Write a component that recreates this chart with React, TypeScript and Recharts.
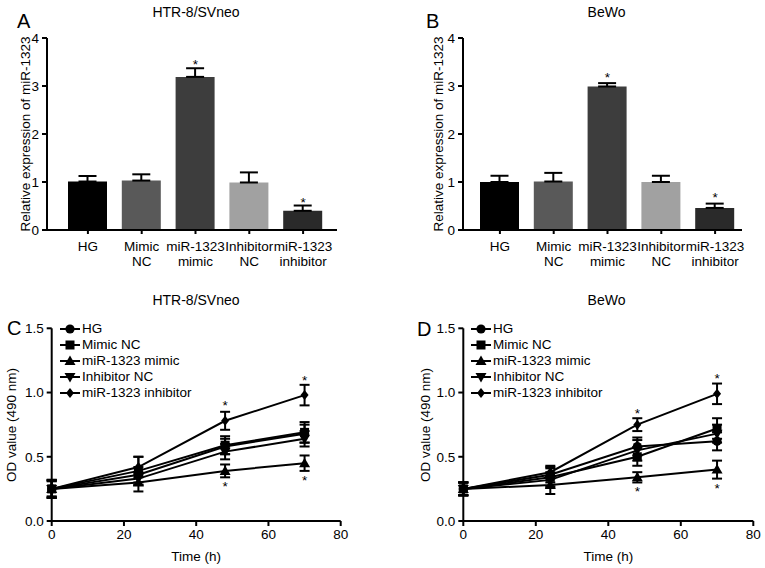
import React from 'react';
import { ComposedChart, Bar, Line, XAxis, YAxis, ErrorBar, Cell, Legend } from 'recharts';

const FONT = '"Liberation Sans", Arial, Helvetica, sans-serif';
const FS = 13.5;

// ---- categories / series names ----
const groupNames = ['HG', 'Mimic NC', 'miR-1323 mimic', 'Inhibitor NC', 'miR-1323 inhibitor'];
const barColors = ['#000000', '#595959', '#3d3d3d', '#a1a1a1', '#2a2a2a'];
const markerShapes = ['circle', 'square', 'triangle', 'tdown', 'diamond'];

// ---- Panel A (HTR-8/SVneo, relative expression) ----
const aValues = [1.01, 1.03, 3.19, 0.99, 0.40];
const aErrors = [0.115, 0.13, 0.18, 0.21, 0.11];
const aStars = [null, null, 3.52, null, 0.64];

// ---- Panel B (BeWo, relative expression) ----
const bValues = [1.0, 1.01, 2.99, 1.0, 0.46];
const bErrors = [0.13, 0.18, 0.07, 0.13, 0.09];
const bStars = [null, null, 3.23, null, 0.74];

const barTicks = [0, 1, 2, 3, 4];

// ---- Panels C / D (OD value over time) ----
const timePoints = [0, 24, 48, 70];
const xTicks = [0, 20, 40, 60, 80];
const odTicks = [0, 0.5, 1.0, 1.5];

const cHG = [0.25, 0.36, 0.58, 0.68];
const cHGErr = [0.06, 0.06, 0.06, 0.07];
const cMimicNC = [0.25, 0.39, 0.59, 0.69];
const cMimicNCErr = [0.07, 0.11, 0.07, 0.08];
const cMimic = [0.25, 0.30, 0.39, 0.45];
const cMimicErr = [0.07, 0.07, 0.05, 0.06];
const cInhNC = [0.25, 0.33, 0.54, 0.64];
const cInhNCErr = [0.06, 0.05, 0.06, 0.06];
const cInh = [0.25, 0.42, 0.78, 0.98];
const cInhErr = [0.07, 0.08, 0.07, 0.08];
const cStarAbove = [null, null, 0.92, 1.12];
const cStarBelow = [null, null, 0.29, 0.34];

const dHG = [0.25, 0.36, 0.58, 0.62];
const dHGErr = [0.05, 0.06, 0.07, 0.07];
const dMimicNC = [0.25, 0.34, 0.50, 0.72];
const dMimicNCErr = [0.05, 0.07, 0.07, 0.08];
const dMimic = [0.25, 0.28, 0.34, 0.40];
const dMimicErr = [0.05, 0.07, 0.04, 0.07];
const dInhNC = [0.25, 0.32, 0.55, 0.68];
const dInhNCErr = [0.05, 0.06, 0.08, 0.07];
const dInh = [0.25, 0.38, 0.75, 0.99];
const dInhErr = [0.05, 0.05, 0.05, 0.08];
const dStarAbove = [null, null, 0.86, 1.13];
const dStarBelow = [null, null, 0.25, 0.275];

const buildBarData = (vals: number[], errs: number[], stars: (number | null)[]) =>
  groupNames.map((name, i) => ({ name, v: vals[i], errRange: [0, errs[i]], star: stars[i] }));

const buildLineData = (
  means: number[][],
  errs: number[][],
  up: (number | null)[],
  down: (number | null)[]
) =>
  timePoints.map((t, j) => {
    const row: any = { t, up: up[j], down: down[j] };
    means.forEach((m, i) => {
      row['s' + i] = m[j];
      row['e' + i] = errs[i][j];
    });
    return row;
  });

const aData = buildBarData(aValues, aErrors, aStars);
const bData = buildBarData(bValues, bErrors, bStars);
const cData = buildLineData(
  [cHG, cMimicNC, cMimic, cInhNC, cInh],
  [cHGErr, cMimicNCErr, cMimicErr, cInhNCErr, cInhErr],
  cStarAbove,
  cStarBelow
);
const dData = buildLineData(
  [dHG, dMimicNC, dMimic, dInhNC, dInh],
  [dHGErr, dMimicNCErr, dMimicErr, dInhNCErr, dInhErr],
  dStarAbove,
  dStarBelow
);

const Marker = ({ shape, cx, cy }: { shape: string; cx: number; cy: number }) => {
  switch (shape) {
    case 'circle':
      return <circle cx={cx} cy={cy} r={4.6} fill="#000" />;
    case 'square':
      return <rect x={cx - 4.5} y={cy - 4.5} width={9} height={9} fill="#000" />;
    case 'triangle':
      return <polygon points={`${cx},${cy - 5.5} ${cx + 5.5},${cy + 4} ${cx - 5.5},${cy + 4}`} fill="#000" />;
    case 'tdown':
      return <polygon points={`${cx},${cy + 5.5} ${cx + 5.5},${cy - 4} ${cx - 5.5},${cy - 4}`} fill="#000" />;
    default:
      return <polygon points={`${cx},${cy - 5} ${cx + 4},${cy} ${cx},${cy + 5} ${cx - 4},${cy}`} fill="#000" />;
  }
};

const makeDot = (shape: string) => (props: any) => {
  const { cx, cy, index } = props;
  if (cx == null || cy == null || isNaN(cy)) return <g key={`d-${shape}-${index}`} />;
  return (
    <g key={`d-${shape}-${index}`}>
      <Marker shape={shape} cx={cx} cy={cy} />
    </g>
  );
};

const StarDot = (props: any) => {
  const { cx, cy, index, value, dataKey } = props;
  if (value == null || cy == null || isNaN(cy)) return <g key={`st-${dataKey}-${index}`} />;
  return (
    <text key={`st-${dataKey}-${index}`} x={cx} y={cy + 7.5} textAnchor="middle" fontSize={FS} fill="#000" fontFamily={FONT}>
      *
    </text>
  );
};

const BarTick = (props: any) => {
  const { x, y, payload } = props;
  const full: string = payload.value;
  const sp = full.indexOf(' ');
  const l1 = sp < 0 ? full : full.slice(0, sp);
  const l2 = sp < 0 ? '' : full.slice(sp + 1);
  return (
    <g>
      <text x={x} y={y + 15} textAnchor="middle" fontSize={FS} fill="#000" fontFamily={FONT}>
        {l1}
      </text>
      {l2 ? (
        <text x={x} y={y + 30} textAnchor="middle" fontSize={FS} fill="#000" fontFamily={FONT}>
          {l2}
        </text>
      ) : null}
    </g>
  );
};

const axisLineStyle = { stroke: '#000', strokeWidth: 2 };
const tickStyle = { fontSize: FS, fill: '#000', fontFamily: FONT };

const rotatedLabel = (text: string, x: number, y: number) => () =>
  (
    <text
      x={x}
      y={y}
      transform={`rotate(-90 ${x} ${y})`}
      textAnchor="middle"
      dominantBaseline="central"
      fontSize={FS}
      fill="#000"
      fontFamily={FONT}
    >
      {text}
    </text>
  );

const flatLabel = (text: string, x: number, y: number) => () =>
  (
    <text x={x} y={y} textAnchor="middle" fontSize={FS} fill="#000" fontFamily={FONT}>
      {text}
    </text>
  );

type BarPanelProps = {
  data: any[];
  left: number;
  width: number;
  marginLeft: number;
  marginRight: number;
  yAxisWidth: number;
  padLeft: number;
  padRight: number;
  labelX: number;
};

const BarPanel = ({ data, left, width, marginLeft, marginRight, yAxisWidth, padLeft, padRight, labelX }: BarPanelProps) => (
  <div style={{ position: 'absolute', left, top: 0 }}>
    <ComposedChart width={width} height={280} data={data} margin={{ top: 38, right: marginRight, left: marginLeft, bottom: 0 }}>
      <XAxis
        dataKey="name"
        type="category"
        height={50}
        padding={{ left: padLeft, right: padRight }}
        axisLine={axisLineStyle}
        tickLine={axisLineStyle}
        tickSize={4}
        tickMargin={2}
        interval={0}
        tick={<BarTick />}
      />
      <YAxis
        type="number"
        domain={[0, 4]}
        ticks={barTicks}
        width={yAxisWidth}
        axisLine={axisLineStyle}
        tickLine={axisLineStyle}
        tickSize={5}
        tickMargin={3}
        tick={tickStyle}
        label={rotatedLabel('Relative expression of miR-1323', labelX, 134)}
      />
      <Bar dataKey="v" barSize={39} isAnimationActive={false}>
        {data.map((d, i) => (
          <Cell key={d.name} fill={barColors[i]} />
        ))}
        <ErrorBar dataKey="errRange" width={9} strokeWidth={2} stroke="#000" direction="y" />
      </Bar>
      <Line dataKey="star" stroke="none" dot={StarDot} activeDot={false} isAnimationActive={false} legendType="none" />
    </ComposedChart>
  </div>
);

const LegendBox = () => (
  <div style={{ fontFamily: FONT, fontSize: FS, color: '#000' }}>
    {groupNames.map((n, i) => (
      <div key={n} style={{ display: 'flex', alignItems: 'center', height: 16, whiteSpace: 'nowrap' }}>
        <svg width={22} height={16} style={{ display: 'block' }}>
          <line x1={1} y1={8} x2={21} y2={8} stroke="#000" strokeWidth={2} />
          <Marker shape={markerShapes[i]} cx={11} cy={8} />
        </svg>
        <span style={{ marginLeft: 1, lineHeight: '16px' }}>{n}</span>
      </div>
    ))}
  </div>
);

type LinePanelProps = {
  data: any[];
  left: number;
  width: number;
  marginLeft: number;
  marginRight: number;
  yAxisWidth: number;
  labelX: number;
  legendLeft: number;
};

const LinePanel = ({ data, left, width, marginLeft, marginRight, yAxisWidth, labelX, legendLeft }: LinePanelProps) => {
  const plotW = width - marginLeft - marginRight - yAxisWidth;
  const xCenter = marginLeft + yAxisWidth + plotW / 2;
  return (
    <div style={{ position: 'absolute', left, top: 300 }}>
      <ComposedChart width={width} height={268} data={data} margin={{ top: 28.3, right: marginRight, left: marginLeft, bottom: 0 }}>
        <XAxis
          dataKey="t"
          type="number"
          domain={[0, 80]}
          ticks={xTicks}
          height={47}
          axisLine={axisLineStyle}
          tickLine={axisLineStyle}
          tickSize={5}
          tickMargin={3}
          tick={tickStyle}
          label={flatLabel('Time (h)', xCenter, 261)}
        />
        <YAxis
          type="number"
          domain={[0, 1.5]}
          ticks={odTicks}
          width={yAxisWidth}
          axisLine={axisLineStyle}
          tickLine={axisLineStyle}
          tickSize={5}
          tickMargin={3}
          tick={tickStyle}
          tickFormatter={(v: number) => v.toFixed(1)}
          label={rotatedLabel('OD value (490 nm)', labelX, 125)}
        />
        {groupNames.map((n, i) => (
          <Line
            key={n}
            name={n}
            dataKey={'s' + i}
            stroke="#000"
            strokeWidth={2}
            dot={makeDot(markerShapes[i])}
            activeDot={false}
            isAnimationActive={false}
          >
            <ErrorBar dataKey={'e' + i} width={5} strokeWidth={2} stroke="#000" direction="y" />
          </Line>
        ))}
        <Line dataKey="up" stroke="none" dot={StarDot} activeDot={false} isAnimationActive={false} legendType="none" />
        <Line dataKey="down" stroke="none" dot={StarDot} activeDot={false} isAnimationActive={false} legendType="none" />
        <Legend
          layout="vertical"
          align="center"
          verticalAlign="middle"
          content={() => <LegendBox />}
          wrapperStyle={{ left: legendLeft, top: 20.5, width: 'auto', height: 'auto' }}
        />
      </ComposedChart>
    </div>
  );
};

const Title = ({ x, y, text }: { x: number; y: number; text: string }) => (
  <text x={x} y={y} textAnchor="middle" fontSize={14} fill="#000" fontFamily={FONT}>
    {text}
  </text>
);

const Letter = ({ x, y, text }: { x: number; y: number; text: string }) => (
  <text x={x} y={y} fontSize={20} fill="#000" fontFamily={FONT}>
    {text}
  </text>
);

export default function App() {
  return (
    <div style={{ position: 'absolute', left: 0, top: 0, width: 765, height: 568, background: '#fff', fontFamily: FONT, overflow: 'hidden' }}>
      <BarPanel data={aData} left={0} width={382} marginLeft={0} marginRight={45} yAxisWidth={47} padLeft={14} padRight={7} labelX={25.5} />
      <BarPanel data={bData} left={385} width={380} marginLeft={30} marginRight={23} yAxisWidth={48} padLeft={10} padRight={0} labelX={53.5} />
      <LinePanel data={cData} left={0} width={382} marginLeft={0} marginRight={41.3} yAxisWidth={51.7} labelX={11} legendLeft={59} />
      <LinePanel data={dData} left={385} width={380} marginLeft={30} marginRight={11.7} yAxisWidth={48.3} labelX={40} legendLeft={85} />
      <svg width={765} height={568} style={{ position: 'absolute', left: 0, top: 0, pointerEvents: 'none' }}>
        <Title x={196} y={17} text="HTR-8/SVneo" />
        <Title x={606.5} y={17} text="BeWo" />
        <Title x={196} y={305} text="HTR-8/SVneo" />
        <Title x={606.5} y={305} text="BeWo" />
        <Letter x={17} y={28} text="A" />
        <Letter x={426} y={28} text="B" />
        <Letter x={7} y={335} text="C" />
        <Letter x={417} y={336} text="D" />
      </svg>
    </div>
  );
}
